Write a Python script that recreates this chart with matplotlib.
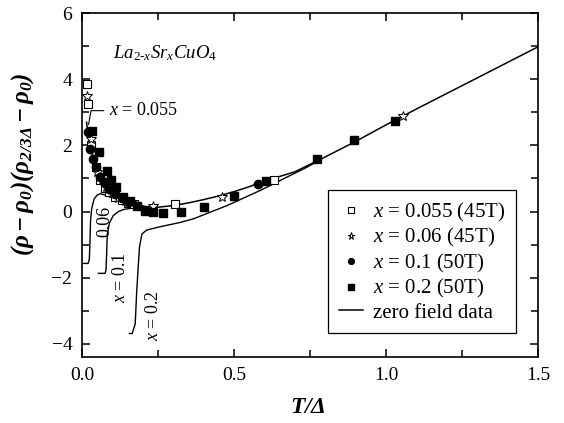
import matplotlib
matplotlib.use('Agg')
import matplotlib.pyplot as plt
from matplotlib.ticker import MultipleLocator

plt.rcParams['font.family'] = ['Liberation Serif', 'DejaVu Serif']
plt.rcParams['mathtext.fontset'] = 'custom'
plt.rcParams['mathtext.rm'] = 'Liberation Serif'
plt.rcParams['mathtext.it'] = 'Liberation Serif:italic'
plt.rcParams['mathtext.bf'] = 'Liberation Serif:bold:italic'

# zero field curves
main_x = [0.015, 0.02, 0.03, 0.04, 0.05, 0.06, 0.08, 0.10, 0.12, 0.15, 0.18, 0.21, 0.25,
          0.30, 0.35, 0.40, 0.45, 0.50, 0.55, 0.60, 0.70, 0.80, 0.90, 1.00, 1.10, 1.20,
          1.30, 1.40, 1.50]
main_y = [2.7, 2.3, 1.85, 1.5, 1.25, 1.05, 0.78, 0.6, 0.47, 0.33, 0.22, 0.15, 0.13,
          0.18, 0.26, 0.36, 0.47, 0.6, 0.75, 0.92, 1.2, 1.65, 2.12, 2.62, 3.1, 3.57,
          4.04, 4.51, 4.98]
b006_x = [0.0, 0.02, 0.024, 0.026, 0.028, 0.032, 0.04, 0.05, 0.06, 0.075, 0.09, 0.11,
          0.13, 0.16, 0.2]
b006_y = [-1.57, -1.57, -1.45, -1.0, -0.3, 0.1, 0.38, 0.5, 0.54, 0.5, 0.45, 0.4,
          0.33, 0.22, 0.15]
b01_x = [0.054, 0.076, 0.079, 0.081, 0.083, 0.09, 0.103, 0.12, 0.136, 0.169, 0.2]
b01_y = [-1.87, -1.87, -1.75, -1.3, -0.7, -0.35, -0.12, 0.0, 0.06, 0.11, 0.14]
b02_x = [0.156, 0.165, 0.175, 0.18, 0.189, 0.197, 0.213, 0.257, 0.323, 0.367, 0.477,
         0.587, 0.674, 0.74, 0.78]
b02_y = [-3.69, -3.69, -3.4, -2.4, -1.08, -0.68, -0.56, -0.46, -0.33, -0.22, 0.18,
         0.64, 1.04, 1.34, 1.55]

# high field data
sq_open_x = [0.015, 0.019, 0.03, 0.045, 0.06, 0.075, 0.09, 0.11, 0.13, 0.15, 0.17, 0.306, 0.633]
sq_open_y = [3.87, 3.26, 2.0, 1.34, 0.95, 0.72, 0.58, 0.45, 0.35, 0.27, 0.22, 0.23, 0.94]
star_x = [0.015, 0.03, 0.05, 0.065, 0.08, 0.1, 0.12, 0.14, 0.16, 0.233, 0.46, 1.057]
star_y = [3.5, 2.2, 1.2, 0.95, 0.75, 0.55, 0.42, 0.32, 0.25, 0.18, 0.45, 2.88]
circ_x = [0.019, 0.026, 0.037, 0.045, 0.06, 0.075, 0.09, 0.11, 0.13, 0.15, 0.578]
circ_y = [2.4, 1.9, 1.6, 1.35, 1.05, 0.85, 0.68, 0.52, 0.4, 0.3, 0.84]
sq_fill_x = [0.032, 0.056, 0.081, 0.095, 0.111, 0.136, 0.158, 0.18, 0.208, 0.235, 0.268,
             0.325, 0.40, 0.50, 0.606, 0.773, 0.894, 1.028]
sq_fill_y = [2.45, 1.8, 1.24, 0.95, 0.74, 0.43, 0.33, 0.18, 0.03, -0.02, -0.05,
             -0.02, 0.13, 0.48, 0.92, 1.6, 2.17, 2.74]

fig = plt.figure(figsize=(5.64, 4.23), dpi=100)
ax = fig.add_axes([0.1454, 0.156, 0.8085, 0.813])

ax.plot(main_x, main_y, color='black', lw=1.1)
ax.plot(b006_x, b006_y, color='black', lw=1.0)
ax.plot(b01_x, b01_y, color='black', lw=1.0)
ax.plot(b02_x, b02_y, color='black', lw=1.0)

ax.plot(sq_open_x, sq_open_y, 's', ls='none', mfc='white', mec='black', mew=0.8, ms=5.5,
        label=r'$x$ = 0.055 (45T)')
ax.plot(star_x, star_y, '*', ls='none', mfc='white', mec='black', mew=0.7, ms=7.5,
        label=r'$x$ = 0.06 (45T)')
ax.plot(circ_x, circ_y, 'o', ls='none', color='black', ms=6, label=r'$x$ = 0.1 (50T)')
ax.plot(sq_fill_x, sq_fill_y, 's', ls='none', color='black', ms=5.5, label=r'$x$ = 0.2 (50T)')
ax.plot([], [], color='black', lw=1.1, label='zero field data')

ax.text(0.102, 4.79, r'$\mathit{La}_{\mathit{2\text{-}x}}\mathit{Sr}_{\mathit{x}}\mathit{CuO}_{\mathit{4}}$',
        fontsize=13.5, va='center')
ax.annotate(r'$x$ = 0.055', xy=(0.02, 2.55), xytext=(0.09, 3.05), fontsize=13, va='center',
            arrowprops=dict(arrowstyle='-', color='black', lw=0.8,
                            connectionstyle='angle,angleA=0,angleB=80,rad=0'))
ax.text(0.076, -0.3, '0.06', rotation=90, fontsize=13, ha='center', va='center')
ax.text(0.125, -2.0, r'$x$ = 0.1', rotation=90, fontsize=13, ha='center', va='center')
ax.text(0.235, -3.15, r'$x$ = 0.2', rotation=90, fontsize=13, ha='center', va='center')

ax.set_xlim(0, 1.5)
ax.set_ylim(-4.4, 6)
ax.xaxis.set_major_locator(MultipleLocator(0.5))
ax.xaxis.set_minor_locator(MultipleLocator(0.25))
ax.yaxis.set_major_locator(MultipleLocator(2))
ax.yaxis.set_minor_locator(MultipleLocator(1))
ax.xaxis.set_major_formatter(matplotlib.ticker.FormatStrFormatter('%.1f'))
ax.tick_params(which='both', direction='in', top=True, right=True, width=1.1, labelsize=14)
ax.tick_params(which='major', length=6, pad=7)
ax.tick_params(which='minor', length=5)
for s in ax.spines.values():
    s.set_linewidth(1.2)

ax.set_xlabel(r'$\mathbf{T/\Delta}$', fontsize=17)
ax.set_ylabel(r'$\mathbf{(\rho - \rho_0)(\rho_{2/3\Delta} - \rho_0)}$', fontsize=18)
ax.xaxis.set_label_coords(0.496, -0.115)
ax.yaxis.set_label_coords(-0.10, 0.56)

leg = ax.legend(loc='lower right', bbox_to_anchor=(0.952, 0.07), fontsize=15,
                frameon=True, fancybox=False, edgecolor='black', framealpha=1,
                markerscale=0.7, handlelength=1.15, handletextpad=0.5,
                labelspacing=0.12, borderpad=0.5, borderaxespad=0)
leg.get_frame().set_linewidth(0.9)

fig.savefig('out.png', dpi=100)
